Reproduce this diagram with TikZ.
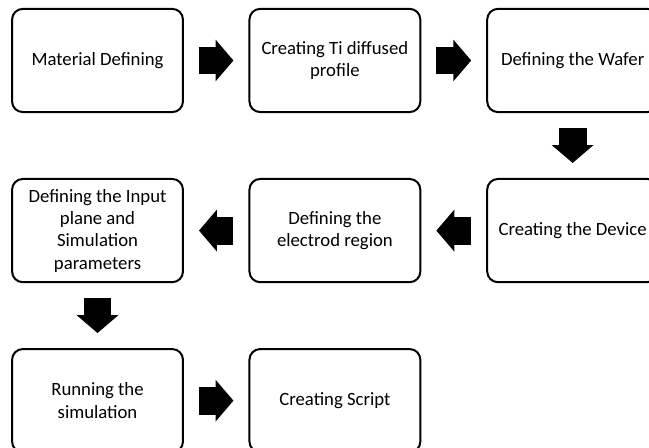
\documentclass[tikz,border=0pt]{standalone}
\usepackage{fontspec}
\setmainfont{Carlito}
\usetikzlibrary{arrows.meta}

\begin{document}
\begin{tikzpicture}
  \tikzstyle{stepbox} = [draw=black, line width=1.5pt, rounded corners=8pt, minimum width=4.52cm, minimum height=2.73cm, align=center, font=\fontsize{14.1}{16.8}\selectfont]
  \tikzstyle{flow} = [line width=21pt, -{Triangle[length=13.5pt, width=30.75pt]}, shorten <=11.3pt, shorten >=11.3pt]

  \useasboundingbox (0,0) rectangle (17.17,-11.85);

  \node[stepbox] (mat) at (2.58,-1.60) {Material Defining};
  \node[stepbox] (tid) at (8.86,-1.60) {Creating Ti diffused\\profile};
  \node[stepbox] (waf) at (15.15,-1.60) {Defining the Wafer};
  \node[stepbox] (dev) at (15.15,-6.10) {Creating the Device};
  \node[stepbox] (ele) at (8.86,-6.10) {Defining the\\electrod region};
  \node[stepbox] (inp) at (2.58,-6.10) {Defining the Input\\plane and\\Simulation\\parameters};
  \node[stepbox] (run) at (2.58,-10.60) {Running the\\simulation};
  \node[stepbox] (scr) at (8.86,-10.60) {Creating Script};

  \draw[flow] (mat) -- (tid);
  \draw[flow] (tid) -- (waf);
  \draw[flow] (waf) -- (dev);
  \draw[flow] (dev) -- (ele);
  \draw[flow] (ele) -- (inp);
  \draw[flow] (inp) -- (run);
  \draw[flow] (run) -- (scr);
\end{tikzpicture}
\end{document}
